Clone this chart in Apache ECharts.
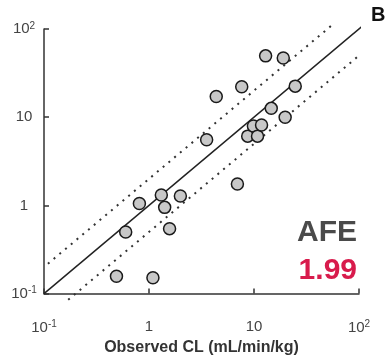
<!DOCTYPE html>
<html>
<head>
<meta charset="utf-8">
<script src="https://cdn.jsdelivr.net/npm/echarts@6/dist/echarts.min.js"></script>
<style>
  html, body { margin: 0; padding: 0; background: #fff; }
  #chart { width: 385px; height: 361px; }
</style>
</head>
<body>
<div id="chart"></div>
<script>
// observed vs predicted clearance (mL/min/kg)
const observed  = [0.49, 1.09, 0.60, 0.81, 1.31, 1.41, 1.57, 1.99, 3.54, 4.37, 6.95, 7.64, 8.71, 9.87, 10.8, 11.8, 12.9, 14.6, 19.0, 19.8, 24.7];
const predicted = [0.157, 0.151, 0.50, 1.05, 1.31, 0.95, 0.545, 1.28, 5.54, 17.2, 1.75, 22.1, 6.1, 7.94, 6.1, 8.15, 49.6, 12.6, 46.8, 10.0, 22.5];

// unity line and 2-fold bounds
const unityLine = [[0.1, 0.1], [106, 106]];
const upperFold = [[0.109, 0.218], [56.5, 113]];
const lowerFold = [[0.17, 0.085], [113, 56.5]];

const tickLabels = { "-1": ["10", "-1"], "0": ["1", ""], "1": ["10", ""], "2": ["10", "2"] };
const afeLabel = "AFE";
const afeValue = "1.99";

const FONT = "Liberation Sans, Arial, sans-serif";

function fmt(v) {
  const e = Math.round(Math.log10(v));
  const [b, s] = tickLabels[String(e)];
  return s ? `{b|${b}}{s|${s}}` : `{b|${b}}`;
}

const richLabels = {
  b: { fontSize: 15, color: "#444", fontFamily: FONT },
  s: { fontSize: 10, color: "#444", fontFamily: FONT, verticalAlign: "top", padding: [0, 0, 6, 0] },
};

const axisBase = {
  type: "log",
  logBase: 10,
  min: 0.1,
  max: 100,
  splitLine: { show: false },
  axisLine: { onZero: false, lineStyle: { color: "#333", width: 1.5 } },
  axisTick: { inside: true, length: 5, lineStyle: { color: "#333", width: 1.5 } },
  minorTick: { show: false },
  axisLabel: { formatter: fmt, rich: richLabels },
};

const chart = echarts.init(document.getElementById("chart"));
chart.setOption({
  backgroundColor: "#fff",
  animation: false,
  grid: { left: 44, right: 26, top: 29, bottom: 64 },
  xAxis: {
    ...axisBase,
    axisLabel: { ...axisBase.axisLabel, margin: 26 },
    name: "Observed CL (mL/min/kg)",
    nameLocation: "middle",
    nameGap: 46,
    nameTextStyle: { fontSize: 16, fontWeight: "bold", color: "#333", fontFamily: FONT, verticalAlign: "top" },
  },
  yAxis: {
    ...axisBase,
    axisLabel: { ...axisBase.axisLabel, margin: 20, align: "center" },
  },
  series: [
    {
      type: "line", data: unityLine, symbol: "none", clip: false, silent: true,
      lineStyle: { color: "#222", width: 1.5 },
    },
    {
      type: "line", data: upperFold, symbol: "none", clip: false, silent: true,
      lineStyle: { color: "#333", width: 2, type: [2, 5.5] },
    },
    {
      type: "line", data: lowerFold, symbol: "none", clip: false, silent: true,
      lineStyle: { color: "#333", width: 2, type: [2, 5.5] },
    },
    {
      type: "scatter",
      data: observed.map((x, i) => [x, predicted[i]]),
      symbolSize: 12,
      z: 5,
      itemStyle: { color: "#c8c8c8", borderColor: "#1a1a1a", borderWidth: 1.5, opacity: 1 },
    },
  ],
  graphic: [
    {
      type: "text", right: 28, top: 218,
      style: { text: afeLabel, font: `bold 30px ${FONT}`, fill: "#4a4a4a" },
    },
    {
      type: "text", right: 28, top: 256,
      style: { text: afeValue, font: `bold 30px ${FONT}`, fill: "#d81b4c" },
    },
    {
      type: "text", left: 371, top: 5,
      style: { text: "B", font: `bold 20px ${FONT}`, fill: "#111" },
    },
  ],
});
</script>
</body>
</html>
